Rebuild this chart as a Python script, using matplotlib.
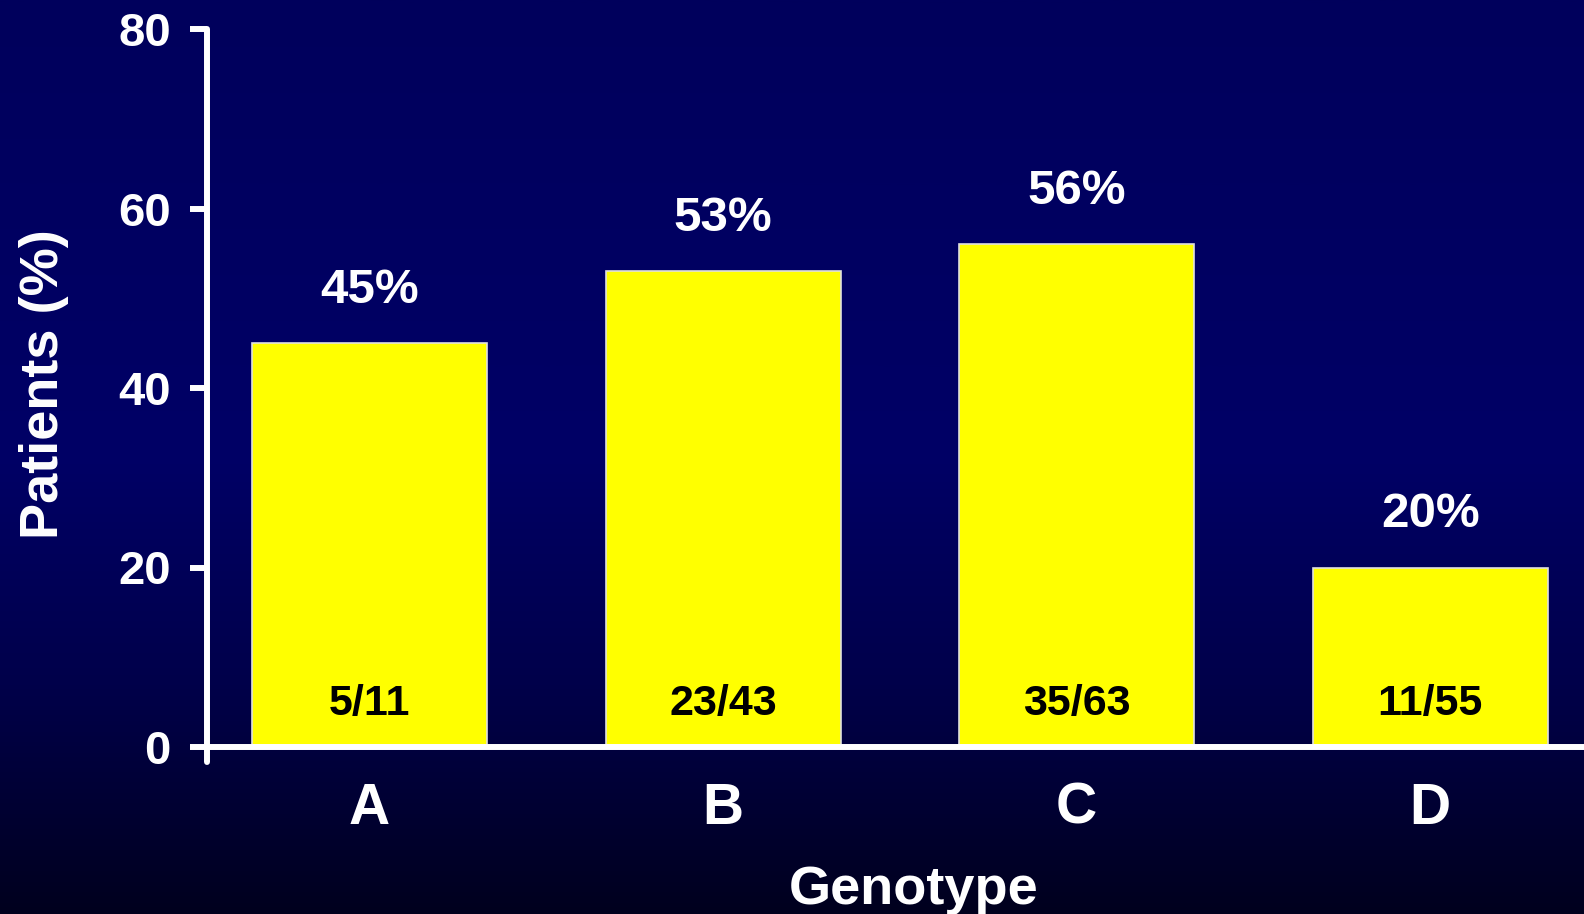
import numpy as np
import matplotlib.pyplot as plt
from matplotlib.colors import LinearSegmentedColormap

# Response by genotype
genotypes = ["A", "B", "C", "D"]
percent = [45, 53, 56, 20]
counts = ["5/11", "23/43", "35/63", "11/55"]
yticks = [0, 20, 40, 60, 80]

FONT = "Liberation Sans"
W, H, DPI = 1584, 914, 100

fig = plt.figure(figsize=(W / DPI, H / DPI), dpi=DPI)

# Navy-to-black vertical gradient backdrop
bg = fig.add_axes([0, 0, 1, 1], zorder=-10)
bg.set_axis_off()
cmap = LinearSegmentedColormap.from_list(
    "navy",
    [(0.0, (0, 0, 0x5c / 255)),
     (0.5, (0, 0, 0x66 / 255)),
     (0.75, (0, 0, 0x4a / 255)),
     (1.0, (0, 0, 0x1e / 255))],
)
grad = np.linspace(0, 1, 512).reshape(-1, 1)
bg.imshow(grad, aspect="auto", cmap=cmap, extent=[0, 1, 0, 1], origin="upper")
bg.set_xlim(0, 1)
bg.set_ylim(0, 1)

left = 207 / W
bottom = 1 - 747 / H
top = 1 - 29 / H
ax = fig.add_axes([left, bottom, 1 - left, top - bottom])
ax.patch.set_alpha(0)

x = np.arange(len(genotypes))
ax.bar(x, percent, width=0.664, color="#ffff00", edgecolor="#e0e0e0",
       linewidth=1.2, zorder=2)

ax.set_xlim(-0.46, 3.435)
ax.set_ylim(0, 80)

for xi, p, c in zip(x, percent, counts):
    ax.text(xi, p + 5.9, f"{p}%", ha="center", va="center", color="white",
            fontsize=35.5, fontweight="bold", family=FONT)
    ax.text(xi, 4.8, c, ha="center", va="center", color="black",
            fontsize=31, fontweight="bold", family=FONT, zorder=3)

lw = 4.3
for side in ("top", "right"):
    ax.spines[side].set_visible(False)
for side in ("left", "bottom"):
    ax.spines[side].set_color("white")
    ax.spines[side].set_linewidth(lw)
    ax.spines[side].set_capstyle("round")
ax.spines["bottom"].set_zorder(4)

ax.set_yticks(yticks)
ax.set_yticklabels([str(t) for t in yticks])
ax.tick_params(axis="y", colors="white", length=12, width=lw, pad=14,
               labelsize=34)
ax.set_xticks(x)
ax.set_xticklabels(genotypes)
ax.tick_params(axis="x", colors="white", length=0, pad=25, labelsize=41)
for lab in ax.get_xticklabels() + ax.get_yticklabels():
    lab.set_fontweight("bold")
    lab.set_family(FONT)

# Short downward extension of the vertical axis below the baseline
ax.plot([0, 0], [0, -15 / (747 - 29)], transform=ax.transAxes, color="white",
        lw=lw, solid_capstyle="round", clip_on=False, zorder=4)

ax.set_ylabel("Patients (%)", color="white", fontsize=39, fontweight="bold",
              family=FONT)
ax.set_xlabel("Genotype", color="white", fontsize=39, fontweight="bold",
              family=FONT)
ax.xaxis.set_label_coords(0.513, -0.165)
ax.yaxis.set_label_coords(-0.1, 0.505)

fig.savefig("out.png", dpi=DPI)
